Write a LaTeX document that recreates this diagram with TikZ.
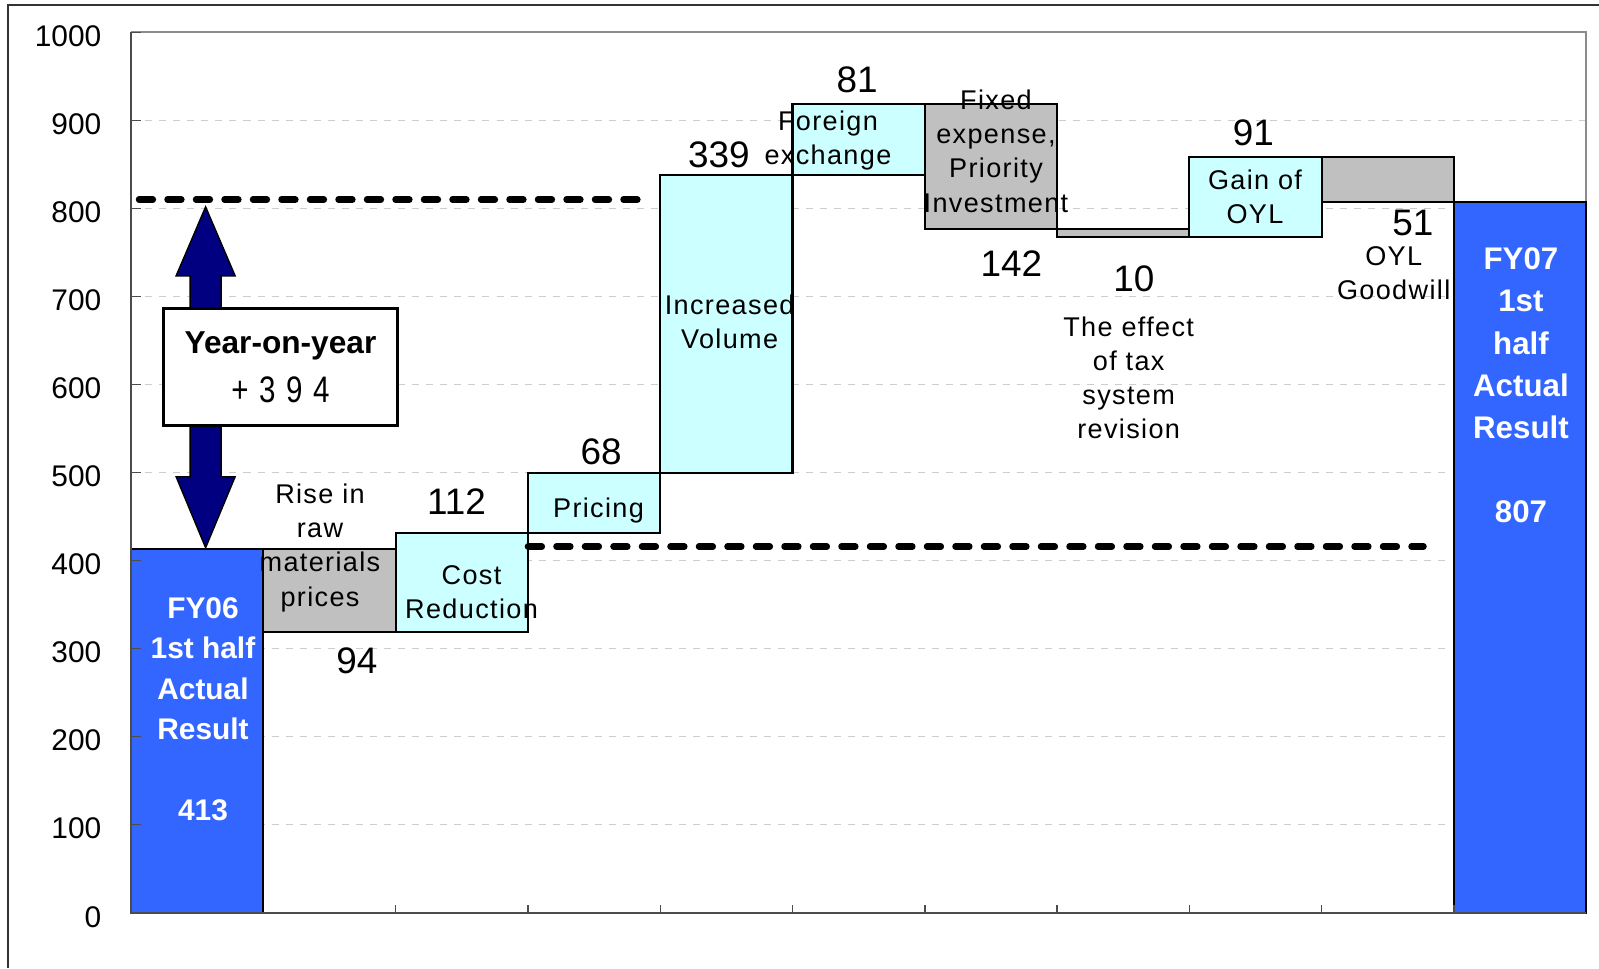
\documentclass[tikz,border=0pt]{standalone}
\usepackage{fontspec}
\setmainfont{Liberation Sans}
\newfontfamily\lblfont[LetterSpace=5]{Liberation Sans}
\newfontfamily\narrowfont[FakeStretch=0.8]{Liberation Sans}

\definecolor{barblue}{RGB}{51,102,255}
\definecolor{barcyan}{RGB}{204,255,255}
\definecolor{bargray}{RGB}{192,192,192}
\definecolor{arrownavy}{RGB}{0,0,128}
\definecolor{gridgray}{RGB}{205,205,205}

\begin{document}
\begin{tikzpicture}[x=1.323cm, y=0.00881cm,
    bluebar/.style={fill=barblue, draw=black, line width=0.6pt},
    cyanbar/.style={fill=barcyan, draw=black, line width=0.6pt},
    graybar/.style={fill=bargray, draw=black, line width=0.6pt},
    lbl/.style={font=\lblfont\fontsize{7.7}{9.7}\selectfont, align=center, inner sep=0pt},
    delta/.style={font=\fontsize{10.5}{12}\selectfont, inner sep=0pt},
    totaltext/.style={font=\bfseries\fontsize{8.5}{11.5}\selectfont, text=white, align=center, inner sep=0pt},
    ylabel/.style={font=\fontsize{8.5}{10}\selectfont, anchor=east, inner sep=0pt},
    gridline/.style={draw=gridgray, dash pattern=on 2pt off 2pt, line width=0.3pt},
    refline/.style={line width=1.8pt, dash pattern=on 0.14cm off 0.145cm, line cap=round}]

    % Frame and plot area
    \useasboundingbox (-0.9902,-63.2) rectangle (11.096,1036.7);
    \draw[black!80, line width=0.6pt] (-0.933,-63.2) -- (-0.933,1031.3) -- (11.096,1031.3);
    \foreach \v in {100,200,...,900}
        \draw[gridline] (0,\v) -- (11,\v);
    \draw[black!45, line width=0.5pt] (0,1000) -- (11,1000) -- (11,0);

    % Bars
    \foreach \i/\lo/\hi/\sty in {0/0/413/bluebar, 1/319/413/graybar, 2/319/431/cyanbar,
        3/431/499/cyanbar, 4/499/838/cyanbar, 5/838/919/cyanbar, 6/777/919/graybar,
        7/767/777/graybar, 8/767/858/cyanbar, 9/807/858/graybar, 10/0/807/bluebar}
        \draw[\sty] (\i,\lo) rectangle (\i+1,\hi);

    % Axes
    \draw[black!70, line width=0.6pt] (0,1000) -- (0,0) -- (11,0);
    \foreach \v in {0,100,...,1000} {
        \draw[black!70] (0,\v) -- ++(0.1cm,0);
        \node[ylabel, yshift=-0.04cm] (y\v) at (-0.219,\v) {\v};
    }
    \foreach \i in {2,...,10}
        \draw[black!70] (\i,0) -- ++(0,0.08cm);

    % Bar labels
    \node[totaltext] (fy06) at (0.544,231.3) {FY06\\1st half\\Actual\\Result\\[11.5pt]413};
    \node[totaltext, font=\bfseries\fontsize{8.9}{12}\selectfont] (fy07) at (10.506,598.8)
        {FY07\\1st\\half\\Actual\\Result\\[12pt]807};
    \node[lbl] (raw) at (1.4286,414.4) {Rise in\\raw\\materials\\prices};
    \node[delta] (d94) at (1.708,285.6) {94};
    \node[delta] (d112) at (2.461,467.2) {112};
    \node[lbl] (cost) at (2.574,363.9) {Cost\\Reduction};
    \node[lbl] (pricing) at (3.534,457) {Pricing};
    \node[delta] (d68) at (3.553,524) {68};
    \node[lbl] (volume) at (4.525,671.2) {Increased\\Volume};
    \node[delta] (d339) at (4.444,860.7) {339};
    \node[lbl] (forex) at (5.268,876.8) {Foreign\\exchange};
    \node[delta] (d81) at (5.488,945.9) {81};
    \node[lbl] (fixed) at (6.538,864.9) {Fixed\\expense,\\Priority\\Investment};
    \node[delta] (d142) at (6.655,737.8) {142};
    \node[delta] (d10) at (7.580,719.6) {10};
    \node[lbl] (tax) at (7.541,607.2) {The effect\\of tax\\system\\revision};
    \node[delta] (d91) at (8.484,886) {91};
    \node[lbl] (oyl) at (8.496,813.5) {Gain of\\OYL};
    \node[delta] (d51) at (9.690,783.9) {51};
    \node[lbl] (goodwill) at (9.544,726.8) {OYL\\Goodwill};

    % Dashed levels
    \draw[refline] (0.06,810) -- (3.83,810);
    \draw[refline] (3.0,415.8) -- (9.77,415.8);

    % Year-on-year arrow
    \filldraw[fill=arrownavy, draw=black, line width=0.4pt] (0.564,801.7) -- (0.787,723.4)
        -- (0.681,723.4) -- (0.681,495.2) -- (0.787,495.2) -- (0.564,414.6)
        -- (0.341,495.2) -- (0.447,495.2) -- (0.447,723.4) -- (0.341,723.4) -- cycle;
    \node[draw=black, line width=1pt, fill=white, minimum width=2.34cm, minimum height=1.17cm,
        align=center, inner sep=0pt, font=\fontsize{8.5}{13.9}\selectfont] (yoy) at (1.13,619.6)
        {{\bfseries\fontsize{9}{13.9}\selectfont Year-on-year}\\{\narrowfont\fontsize{10.5}{13.9}\selectfont +\hspace{3pt}3\hspace{3pt}9\hspace{3pt}4}};
\end{tikzpicture}
\end{document}
